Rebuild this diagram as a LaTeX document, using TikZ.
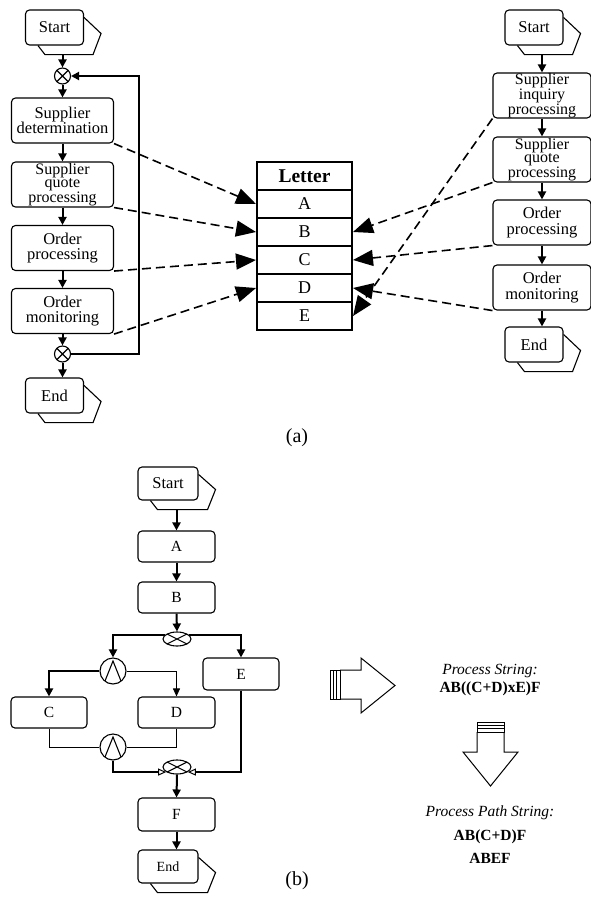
\documentclass[tikz,border=0pt]{standalone}
\usepackage{fontspec}
\setmainfont{Liberation Serif}
\usetikzlibrary{arrows.meta,calc,shapes.geometric}

\tikzset{
  box/.style={draw, rounded corners=4pt, line width=1.1pt, minimum width=102pt,
    minimum height=45pt, inner sep=0pt, align=center,
    font=\fontsize{16.5}{15.5}\selectfont},
  threeline/.style={font=\fontsize{16}{13.5}\selectfont},
  bbox/.style={draw, rounded corners=4pt, line width=1.1pt, minimum width=77pt,
    minimum height=31pt, inner sep=0pt, font=\fontsize{15.5}{15.5}\selectfont},
  term/.style={draw, rounded corners=4pt, line width=1.1pt, minimum width=58pt,
    minimum height=35pt, inner sep=0pt, font=\fontsize{16.5}{16}\selectfont},
  flow/.style={line width=2pt, -{Triangle[length=8pt,width=8pt]}},
  thinflow/.style={line width=0.9pt, -{Triangle[length=8pt,width=7pt]}},
  openflow/.style={line width=2pt, -{Triangle[open,length=8pt,width=7pt,line width=1pt]}},
  thinline/.style={line width=0.9pt},
  link/.style={line width=1.6pt, dash pattern=on 9pt off 5pt,
    -{Triangle[length=20pt,width=16pt]}},
  cross/.style={path picture={\draw[line width=1.1pt]
      (path picture bounding box.north west) -- (path picture bounding box.south east)
      (path picture bounding box.north east) -- (path picture bounding box.south west);}},
  xorc/.style={circle, draw, line width=1.1pt, minimum size=16pt, inner sep=0pt, cross},
  xore/.style={ellipse, draw, line width=1.1pt, minimum width=28pt, minimum height=14pt,
    inner sep=0pt, cross},
  andc/.style={circle, draw, line width=1.1pt, minimum size=26pt, inner sep=0pt,
    path picture={\draw[line width=1.1pt]
      ($(path picture bounding box.center)+(-8,10)$) --
      ($(path picture bounding box.center)+(0,-10)$) --
      ($(path picture bounding box.center)+(8,10)$);}},
  cell/.style={draw, line width=2pt, minimum width=95pt, minimum height=28pt,
    inner sep=0pt, font=\fontsize{18}{18}\selectfont},
  blockarrow/.style={line width=1pt},
}

% tab drawn behind a Start/End terminal, plus a coordinate at its lower edge
\newcommand\termtab[1]{%
  \draw[line width=1.1pt] ($(#1.south west)+(13,0)$) -- ++(7,9)
    -- ($(#1.south east)+(9,9)$) -- ($(#1.east)+(17,6)$)
    -- ($(#1.north east)+(0,8)$);
  \coordinate (#1-tab) at ($(#1.south)+(0,9)$);}

\begin{document}
\begin{tikzpicture}[x=1pt,y=-1pt]
\useasboundingbox (0,0) rectangle (591,905);

% ---------- (a) left process ----------
\node[term] (s1) at (54.5,27.5) {Start};
\termtab{s1}
\node[xorc] (x1) at (62.5,76) {};
\node[box] (sd) at (62.5,120.5) {Supplier\\determination};
\node[box,threeline] (sq) at (62.5,184.5) {Supplier\\quote\\processing};
\node[box] (op) at (62.5,248) {Order\\processing};
\node[box] (om) at (62.5,311) {Order\\monitoring};
\node[xorc] (x2) at (62.5,354) {};
\node[term] (e1) at (54.5,395.5) {End};
\termtab{e1}

\draw[flow] (x1 |- s1-tab) -- (x1.north);
\draw[flow] (x1.south) -- (sd.north);
\draw[flow] (sd.south) -- (sq.north);
\draw[flow] (sq.south) -- (op.north);
\draw[flow] (op.south) -- (om.north);
\draw[flow] (om.south) -- (x2.north);
\draw[flow] (x2.south) -- (x2.south |- e1.north);
\draw[flow] (x2.east) -- ++(68,0) |- (x1.east);

% ---------- letter table ----------
\node[cell, font=\bfseries\fontsize{19.5}{19.5}\selectfont] (tH) at (304.5,176) {Letter};
\node[cell] (tA) at (304.5,204) {A};
\node[cell] (tB) at (304.5,232) {B};
\node[cell] (tC) at (304.5,260) {C};
\node[cell] (tD) at (304.5,288) {D};
\node[cell] (tE) at (304.5,316) {E};

% ---------- (a) right process ----------
\node[term] (s3) at (534,27.5) {Start};
\termtab{s3}
\node[box,threeline,minimum width=98pt] (ri) at (542,95.5) {Supplier\\inquiry\\processing};
\node[box,threeline,minimum width=98pt] (rq) at (542,159.5) {Supplier\\quote\\processing};
\node[box,minimum width=98pt] (rop) at (542,222.5) {Order\\processing};
\node[box,minimum width=98pt] (rom) at (542,287.5) {Order\\monitoring};
\node[term] (e3) at (534,344.5) {End};
\termtab{e3}

\draw[flow] (ri.north |- s3-tab) -- (ri.north);
\draw[flow] (ri.south) -- (rq.north);
\draw[flow] (rq.south) -- (rop.north);
\draw[flow] (rop.south) -- (rom.north);
\draw[flow] (rom.south) -- (rom.south |- e3.north);

% ---------- letter assignments ----------
\draw[link] (sd.south east) -- (tA.west);
\draw[link] (sq.south east) -- (tB.west);
\draw[link] (op.south east) -- (tC.west);
\draw[link] (om.south east) -- (tD.west);
\draw[link] (ri.south west) -- (tE.east);
\draw[link] (rq.south west) -- (tB.east);
\draw[link] (rop.south west) -- (tC.east);
\draw[link] (rom.south west) -- (tD.east);

\node[font=\fontsize{20}{20}\selectfont] (la) at (297,438) {(a)};

% ---------- (b) letter process ----------
\node[term, minimum width=60pt, minimum height=33pt] (s2) at (168,483.5) {Start};
\termtab{s2}
\node[bbox] (nA) at (176.5,546.5) {A};
\node[bbox] (nB) at (176.5,597.5) {B};
\node[xore] (x3) at (177,639) {};
\node[andc] (a1) at (113,671) {};
\node[bbox, minimum width=76pt, minimum height=32pt] (nE) at (241,674) {E};
\node[bbox, minimum width=76pt] (nC) at (49,712.5) {C};
\node[bbox] (nD) at (176.5,712.5) {D};
\node[andc] (a2) at (113,747) {};
\node[xore] (x4) at (177,767) {};
\node[bbox, minimum height=33pt] (nF) at (176.5,814.5) {F};
\node[term, minimum width=60pt, minimum height=33pt,
      font=\fontsize{14}{14}\selectfont] (e2) at (168,866.5) {End};
\termtab{e2}

\draw[flow] (nA.north |- s2-tab) -- (nA.north);
\draw[flow] (nA.south) -- (nB.north);
\draw[flow] (nB.south) -- (x3.north);
\draw[flow] (x3.160) -| (a1.north);
\draw[flow] (x3.20) -| (nE.north);
\draw[flow] (a1.west) -| (nC.north);
\draw[thinflow] (a1.east) -| (nD.north);
\draw[thinline] (nC.south) |- (a2.west);
\draw[thinline] (nD.south) |- (a2.east);
\draw[openflow] (a2.south) |- (x4.205);
\draw[openflow] (nE.south) |- (x4.335);
\draw[flow] (x4.south) -- (nF.north);
\draw[flow] (nF.south) -- (nF.south |- e2.north);

\node[font=\fontsize{20}{20}\selectfont] (lb) at (297,881) {(b)};

% ---------- derivation arrows ----------
\draw[blockarrow] (340,670) -- (361,670) -- (361,658) -- (395,685.5)
  -- (361,713) -- (361,699) -- (340,699);
\draw[blockarrow] (330,670) rectangle (340,699);
\draw[blockarrow] (333,670) -- (333,699) (336,670) -- (336,699);

\draw[blockarrow] (477,732) -- (477,752) -- (463,752) -- (490.5,786)
  -- (518,752) -- (504,752) -- (504,732);
\draw[blockarrow] (477,722) rectangle (504,732);
\draw[blockarrow] (477,725) -- (504,725) (477,728) -- (504,728);

\node[font=\itshape\fontsize{15.5}{15.5}\selectfont] (ps) at (490,671) {Process String:};
\node[font=\bfseries\fontsize{15.5}{15.5}\selectfont] (psv) at (490,689) {AB((C+D)xE)F};
\node[font=\itshape\fontsize{15.5}{15.5}\selectfont] (pp) at (490,813) {Process Path String:};
\node[font=\bfseries\fontsize{15.5}{15.5}\selectfont] (pp1) at (490,837) {AB(C+D)F};
\node[font=\bfseries\fontsize{15.5}{15.5}\selectfont] (pp2) at (490,858) {ABEF};

\end{tikzpicture}
\end{document}
